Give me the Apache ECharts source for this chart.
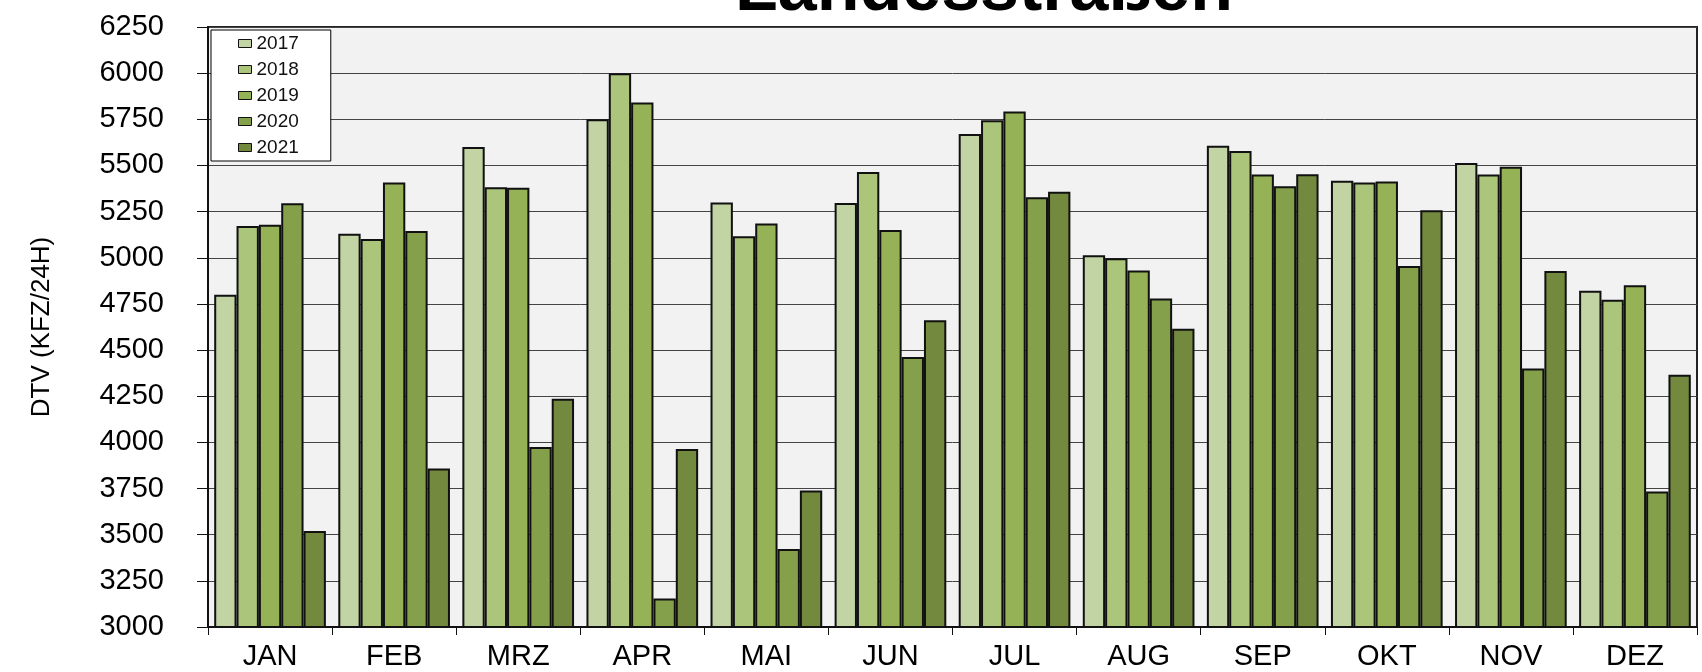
<!DOCTYPE html>
<html>
<head>
<meta charset="utf-8">
<script src="https://cdn.jsdelivr.net/npm/echarts@6/dist/echarts.min.js"></script>
<style>
  html, body { margin: 0; padding: 0; background: #fff; }
  #myChart { width: 1702px; height: 672px; }
</style>
</head>
<body>
<div id="myChart"></div>
<script>
// Daten
let months = ['JAN', 'FEB', 'MRZ', 'APR', 'MAI', 'JUN', 'JUL', 'AUG', 'SEP', 'OKT', 'NOV', 'DEZ']
let years = ['2017', '2018', '2019', '2020', '2021']
let dtv2017 = [4800, 5130, 5600, 5750, 5300, 5297, 5670, 5013, 5607, 5417, 5514, 4822]
let dtv2018 = [5172, 5101, 5382, 6000, 5116, 5464, 5745, 4998, 5578, 5408, 5451, 4772]
let dtv2019 = [5179, 5408, 5379, 5841, 5185, 5150, 5792, 4931, 5451, 5413, 5493, 4851]
let dtv2020 = [5295, 5145, 3975, 3155, 3423, 4462, 5328, 4779, 5388, 4955, 4400, 3734]
let dtv2021 = [3520, 3859, 4237, 3964, 3739, 4661, 5357, 4616, 5453, 5257, 4929, 4366]
let colors = ['#c2d3a4', '#abc57a', '#96b257', '#85a04b', '#72893e']

let allValues = [dtv2017, dtv2018, dtv2019, dtv2020, dtv2021]

let myChart = echarts.init(document.getElementById('myChart'))

let font = "'Liberation Sans', Arial, sans-serif"

myChart.setOption({
    animation: false,
    textStyle: { fontFamily: font },
    graphic: [{
        type: 'text',
        x: 984,
        y: -9,
        style: {
            text: 'Landesstraßen',
            font: "bold 70px 'Liberation Sans', Arial, sans-serif",
            fill: '#000',
            align: 'center',
            verticalAlign: 'middle'
        }
    }],
    legend: {
        data: years,
        orient: 'vertical',
        left: 211,
        top: 30,
        padding: [4, 32, 4, 27],
        itemGap: 7,
        itemWidth: 13,
        itemHeight: 8,
        icon: 'rect',
        backgroundColor: '#fff',
        borderColor: '#000',
        borderWidth: 1,
        borderRadius: 0,
        itemStyle: { borderColor: '#111', borderWidth: 1 },
        textStyle: { fontSize: 19, color: '#111', fontFamily: font }
    },
    grid: {
        left: 208,
        right: 5,
        top: 27,
        bottom: 45,
        show: true,
        backgroundColor: '#f2f2f2',
        borderColor: '#222',
        borderWidth: 2
    },
    xAxis: {
        type: 'category',
        data: months,
        axisLine: { lineStyle: { color: '#111', width: 2 } },
        axisTick: { show: true, length: 8, lineStyle: { color: '#111', width: 1 } },
        axisLabel: { fontSize: 29, color: '#000', margin: 15, fontFamily: font }
    },
    yAxis: {
        type: 'value',
        min: 3000,
        max: 6250,
        interval: 250,
        name: 'DTV (KFZ/24H)',
        nameLocation: 'middle',
        nameGap: 153,
        nameTextStyle: { fontSize: 26, color: '#000', fontFamily: font },
        axisLine: { show: true, lineStyle: { color: '#111', width: 2 } },
        axisTick: { show: true, length: 11, lineStyle: { color: '#111', width: 1 } },
        axisLabel: {
            fontSize: 29, color: '#000', margin: 44, fontFamily: font,
            formatter: function (v) { return String(v) }
        },
        splitLine: { lineStyle: { color: '#444', width: 1 } }
    },
    series: years.map(function (y, i) {
        return {
            name: y,
            type: 'bar',
            data: allValues[i],
            barGap: '0%',
            barCategoryGap: '10%',
            itemStyle: { color: colors[i], borderColor: '#111', borderWidth: 2 }
        }
    })
})
</script>
</body>
</html>
